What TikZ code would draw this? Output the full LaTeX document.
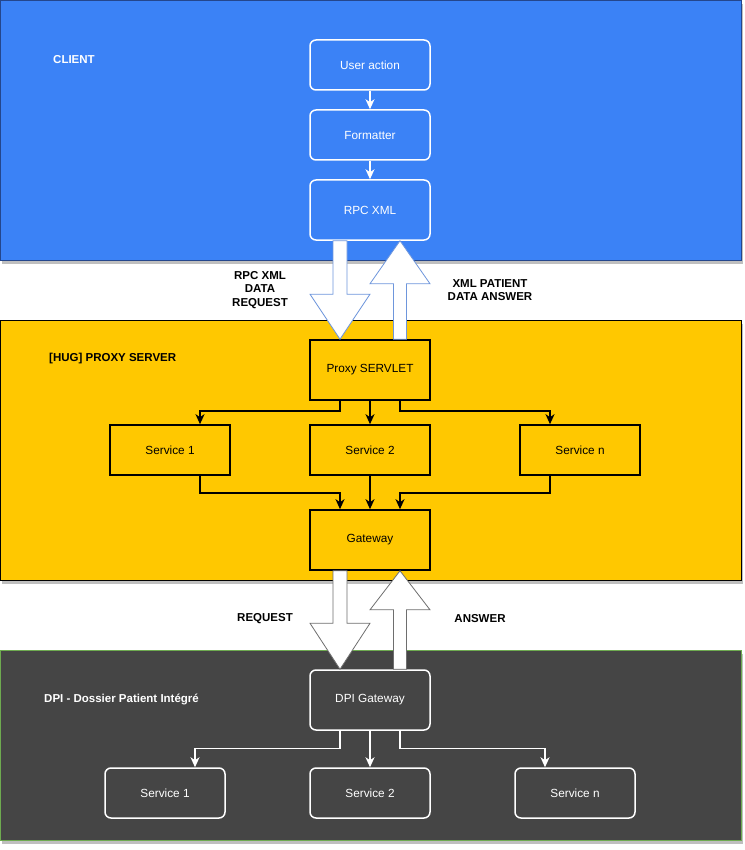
\documentclass[tikz,border=0pt]{standalone}
\usepackage{fontspec}
\setmainfont{Liberation Sans}
\usetikzlibrary{arrows.meta,calc,shadows}
\definecolor{clientblue}{RGB}{59,130,246}
\definecolor{clientborder}{RGB}{36,70,140}
\definecolor{proxyyellow}{RGB}{255,200,0}
\definecolor{dpigray}{RGB}{69,69,69}
\definecolor{dpiborder}{RGB}{110,170,80}
\definecolor{flexblue}{RGB}{110,150,220}
\definecolor{flexgray}{RGB}{110,110,110}
\newcommand{\flexdown}[4]{%
  \draw[#4, fill=white, line width=0.8pt] let \p1=(#1), \p2=(#2) in
    (\x1-7pt,\y1) -- (\x1+7pt,\y1) -- (\x1+7pt,\y2+#3) -- (\x1+30pt,\y2+#3)
    -- (\x1,\y2) -- (\x1-30pt,\y2+#3) -- (\x1-7pt,\y2+#3) -- cycle;}
\newcommand{\flexup}[4]{%
  \draw[#4, fill=white, line width=0.8pt] let \p1=(#1), \p2=(#2) in
    (\x1-6.5pt,\y1) -- (\x1+6.5pt,\y1) -- (\x1+6.5pt,\y2-#3) -- (\x1+30pt,\y2-#3)
    -- (\x1,\y2) -- (\x1-30pt,\y2-#3) -- (\x1-6.5pt,\y2-#3) -- cycle;}
\tikzset{
  band/.style={anchor=north west, minimum width=741pt, inner sep=0pt, outer sep=0pt,
    line width=0.8pt, drop shadow={shadow xshift=2pt, shadow yshift=-4pt, fill=black!25, opacity=1}},
  bandlabel/.style={anchor=west, font=\fontsize{11.5}{13}\selectfont\bfseries, inner sep=0pt},
  wbox/.style={draw=white, rounded corners=6pt, line width=1.5pt, text=white,
    minimum width=120pt, inner sep=0pt, font=\fontsize{11.8}{13}\selectfont},
  ybox/.style={draw=black, line width=1.6pt, text=black,
    minimum width=120pt, inner sep=0pt, font=\fontsize{11.8}{13}\selectfont},
  wline/.style={draw=white, line width=1.3pt, -{Stealth[length=10pt,width=9pt,inset=3pt]}},
  bline/.style={draw=black, line width=1.6pt, -{Stealth[length=10pt,width=9pt,inset=3pt]}},
  flabel/.style={font=\fontsize{11.5}{13.5}\selectfont\bfseries, align=center, inner sep=0pt}
}
\begin{document}
\begin{tikzpicture}[x=1pt,y=-1pt]
\useasboundingbox (0,0) rectangle (744,850);
% bands
\node[band, draw=clientborder, fill=clientblue, minimum height=260pt] (client) at (0,0) {};
\node[band, draw=black, fill=proxyyellow, minimum height=260pt] (proxy) at (0,320) {};
\node[band, draw=dpiborder, fill=dpigray, minimum height=190pt] (dpi) at (0,650) {};
\node[bandlabel, text=white] (lclient) at (53,60) {CLIENT};
\node[bandlabel, text=black] (lproxy) at (49,359) {[HUG] PROXY SERVER};
\node[bandlabel, text=white] (ldpi) at (44,699) {DPI - Dossier Patient Intégré};
% client nodes
\node[wbox, minimum height=50pt] (ua) at (370,65) {User action};
\node[wbox, minimum height=50pt] (fmt) at (370,135) {Formatter};
\node[wbox, minimum height=60pt] (rpc) at (370,210) {RPC XML};
\draw[wline] (ua) -- (fmt);
\draw[wline] (fmt) -- (rpc);
% proxy nodes
\node[ybox, minimum height=60pt] (servlet) at (370,370) {Proxy SERVLET};
\node[ybox, minimum height=50pt] (s1) at (170,450) {Service 1};
\node[ybox, minimum height=50pt] (s2) at (370,450) {Service 2};
\node[ybox, minimum height=50pt] (sn) at (580,450) {Service n};
\node[ybox, minimum height=60pt] (gw) at (370,540) {Gateway};
\draw[bline] ([xshift=-30pt]servlet.south) -- ++(0,10) -| ([xshift=30pt]s1.north);
\draw[bline] (servlet.south) -- (s2.north);
\draw[bline] ([xshift=30pt]servlet.south) -- ++(0,10) -| ([xshift=-30pt]sn.north);
\draw[bline] ([xshift=30pt]s1.south) -- ++(0,17) -| ([xshift=-30pt]gw.north);
\draw[bline] (s2.south) -- (gw.north);
\draw[bline] ([xshift=-30pt]sn.south) -- ++(0,17) -| ([xshift=30pt]gw.north);
% dpi nodes
\node[wbox, minimum height=60pt] (dgw) at (370,700) {DPI Gateway};
\node[wbox, minimum height=50pt] (d1) at (165,793) {Service 1};
\node[wbox, minimum height=50pt] (d2) at (370,793) {Service 2};
\node[wbox, minimum height=50pt] (dn) at (575,793) {Service n};
\draw[wline] ([xshift=-30pt]dgw.south) -- ++(0,18) -| ([xshift=30pt]d1.north);
\draw[wline] (dgw.south) -- (d2.north);
\draw[wline] ([xshift=30pt]dgw.south) -- ++(0,18) -| ([xshift=-30pt]dn.north);
% flex arrows
\coordinate (a1s) at ([xshift=-30pt]rpc.south);
\coordinate (a1e) at ([xshift=-30pt]servlet.north);
\coordinate (a2s) at ([xshift=30pt]servlet.north);
\coordinate (a2e) at ([xshift=30pt]rpc.south);
\coordinate (a3s) at ([xshift=-30pt]gw.south);
\coordinate (a3e) at ([xshift=-30pt]dgw.north);
\coordinate (a4s) at ([xshift=30pt]dgw.north);
\coordinate (a4e) at ([xshift=30pt]gw.south);
\flexdown{a1s}{a1e}{45pt}{flexblue}
\flexup{a2s}{a2e}{43pt}{flexblue}
\flexdown{a3s}{a3e}{46pt}{flexgray}
\flexup{a4s}{a4e}{39pt}{flexgray}
% labels
\node[flabel] (lreq1) at (260,290) {RPC XML\\DATA\\REQUEST};
\node[flabel] (lans1) at (490,290) {XML PATIENT\\DATA ANSWER};
\node[flabel] (lreq2) at (265,619) {REQUEST};
\node[flabel] (lans2) at (480,619) {ANSWER};
\end{tikzpicture}
\end{document}
